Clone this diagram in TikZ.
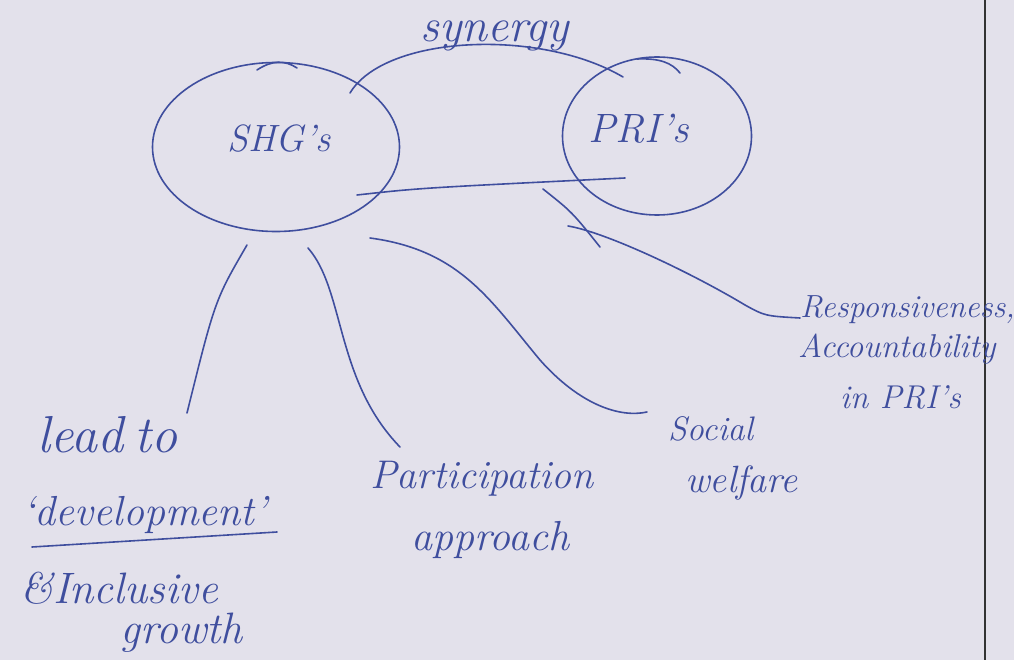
\documentclass[tikz,border=0pt]{standalone}
\usetikzlibrary{shapes.geometric}
\definecolor{paper}{HTML}{E3E1EB}
\definecolor{ink}{HTML}{3F4E9E}
\tikzset{
  inkline/.style={draw=ink, line width=1.6pt, line cap=round},
  hand/.style={text=ink, font=\itshape, inner sep=0pt, anchor=base west},
  ring/.style={ellipse, draw=ink, line width=1.6pt, inner sep=0pt},
}
\newcommand{\fs}[1]{\fontsize{#1}{#1}\selectfont}
\begin{document}
\begin{tikzpicture}[x=1pt,y=-1pt]
\useasboundingbox (0,0) rectangle (1014,660);
\fill[paper] (0,0) rectangle (1014,660);
\draw[line width=2.4pt, black!80] (985,0) -- (985,660);
% ellipses
\node[ring, minimum width=247pt, minimum height=169pt] (shg) at (276,147) {};
\node[ring, minimum width=189pt, minimum height=158pt] (pri) at (657,136) {};
\draw[inkline] (257,70) .. controls (272,60) and (285,60) .. (297,68);
\draw[inkline] (637,59) .. controls (660,58) and (672,63) .. (680,73);
\node[hand, font=\fs{38}\itshape] (shgt) at (227,152) {SHG's};
\node[hand, font=\fs{41}\itshape] (prit) at (588,143) {PRI's};
\node[hand, font=\fs{47}\itshape] (syn) at (420,42) {synergy};
% labels
\node[hand, font=\fs{32}\itshape] (resp) at (800,317) {Responsiveness,};
\node[hand, font=\fs{33}\itshape] (acc) at (798,357) {Accountability};
\node[hand, font=\fs{33}\itshape] (inpri) at (840,408) {in PRI's};
\node[hand, font=\fs{34}\itshape] (soc) at (668,440) {Social};
\node[hand, font=\fs{38}\itshape] (wel) at (685,492) {welfare};
\node[hand, font=\fs{40}\itshape] (part) at (370,488) {Participation};
\node[hand, font=\fs{42}\itshape] (appr) at (411,550) {approach};
\node[hand, font=\fs{52}\itshape] (lead) at (37,452) {lead\hspace{12pt}to};
\node[hand, font=\fs{42}\itshape] (dev) at (22,525) {`development'};
\node[hand, font=\fs{44}\itshape] (incl) at (20,603) {\&Inclusive};
\node[hand, font=\fs{44}\itshape] (grow) at (120,643) {growth};
% free ends
\coordinate (synA) at (350,93);
\coordinate (synB) at (623,77);
\coordinate (botA) at (357,195);
\coordinate (botB) at (625,178);
\coordinate (c1a) at (247,245);
\coordinate (c1b) at (187,413);
\coordinate (c2a) at (308,248);
\coordinate (c2b) at (400,447);
\coordinate (c3a) at (370,238);
\coordinate (c3m) at (540,360);
\coordinate (c3b) at (647,412);
\coordinate (c4a) at (568,226);
\coordinate (c4m) at (745,305);
\coordinate (c4b) at (800,318);
\coordinate (c5a) at (543,189);
\coordinate (c5b) at (600,247);
\coordinate (ulA) at (32,547);
\coordinate (ulB) at (277,532);
% connectors
\draw[inkline] (synA) .. controls (385,35) and (540,28) .. (synB);
\draw[inkline] (botA) .. controls (420,188) .. (botB);
\draw[inkline] (c1a) .. controls (215,300) .. (c1b);
\draw[inkline] (c2a) .. controls (345,290) and (335,380) .. (c2b);
\draw[inkline] (c3a) .. controls (460,250) and (490,300) .. (c3m)
                 .. controls (580,405) and (620,418) .. (c3b);
\draw[inkline] (c4a) .. controls (605,232) and (690,272) .. (c4m)
                 .. controls (765,316) .. (c4b);
\draw[inkline] (c5a) .. controls (572,212) .. (c5b);
\draw[inkline] (ulA) -- (ulB);
\end{tikzpicture}
\end{document}
